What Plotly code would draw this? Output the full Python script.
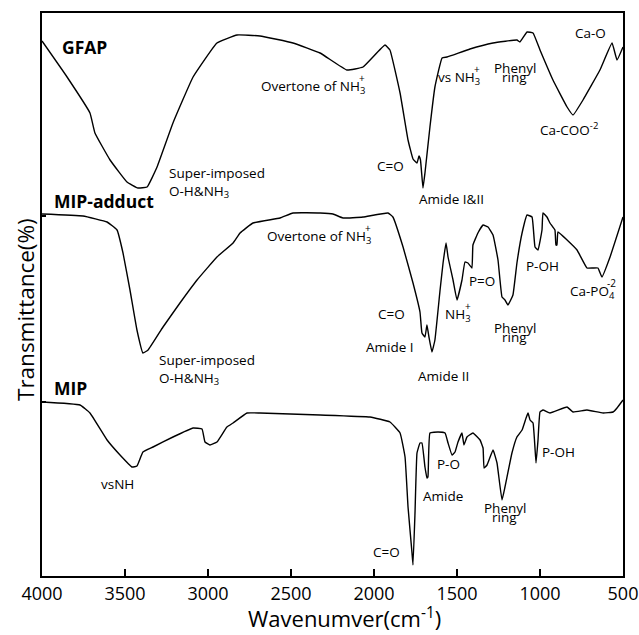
import plotly.graph_objects as go

# ---- data (wavenumber cm-1, transmittance in arbitrary offset units) ----
gfap_wn = [4000, 3849, 3711, 3681, 3590, 3488, 3422, 3367, 3307, 3211, 3090, 2946, 2825, 2687,
           2488, 2325, 2163, 2066, 1934, 1904, 1843, 1795, 1765, 1741, 1729, 1720, 1705, 1693,
           1663, 1633, 1590, 1560, 1422, 1283, 1139, 1121, 1078, 1042, 1000, 922, 837, 801,
           741, 639, 566, 536, 500]
gfap_t = [535, 499, 463, 443, 416, 394, 388, 389, 409, 453, 499, 533, 541, 540,
          533, 523, 506, 509, 531, 526, 483, 436, 417, 413, 420, 416, 388, 403,
          449, 489, 518, 519, 527, 533, 536, 534, 544, 543, 526, 496, 469, 461,
          476, 506, 533, 516, 529]

adduct_wn = [4000, 3753, 3608, 3548, 3512, 3470, 3428, 3392, 3361, 3271, 3169, 3066, 2946, 2849,
             2807, 2729, 2566, 2488, 2325, 2247, 2187, 2066, 1916, 1886, 1825, 1765, 1723, 1711,
             1693, 1681, 1669, 1651, 1633, 1602, 1584, 1566, 1554, 1524, 1500, 1470, 1452, 1434,
             1410, 1404, 1374, 1343, 1313, 1283, 1253, 1229, 1211, 1193, 1163, 1139, 1108, 1078,
             1048, 1030, 1012, 988, 982, 958, 940, 910, 904, 898, 892, 837, 777, 717, 681, 651,
             627, 578, 500]
adduct_t = [362, 360, 354, 346, 323, 286, 246, 223, 226, 249, 273, 296, 319, 333,
            343, 353, 358, 363, 363, 362, 358, 359, 363, 359, 329, 293, 264, 243,
            239, 251, 239, 224, 236, 286, 313, 333, 319, 296, 276, 296, 314, 313,
            308, 331, 343, 351, 349, 341, 316, 279, 276, 271, 281, 313, 343, 361,
            359, 329, 326, 346, 363, 359, 353, 346, 331, 331, 344, 336, 326, 308, 308, 308,
            299, 319, 359]

mip_wn = [4000, 3771, 3711, 3608, 3530, 3458, 3428, 3392, 3331, 3211, 3090, 3036, 3018, 2988,
          2946, 2886, 2849, 2765, 2687, 2325, 2024, 1904, 1843, 1813, 1795, 1771, 1765, 1753,
          1741, 1723, 1711, 1693, 1681, 1675, 1663, 1614, 1572, 1554, 1530, 1512, 1494, 1470,
          1458, 1440, 1404, 1361, 1343, 1337, 1319, 1283, 1259, 1229, 1211, 1169, 1139, 1108,
          1084, 1072, 1060, 1042, 1024, 1012, 1000, 982, 940, 837, 801, 717, 620, 560, 536, 500]
mip_t = [174, 171, 163, 136, 121, 109, 110, 124, 129, 139, 148, 147, 134, 131,
         134, 149, 153, 163, 163, 161, 159, 154, 143, 119, 69, 23, 11, 63,
         123, 133, 133, 109, 98, 99, 143, 144, 143, 133, 121, 124, 134, 143,
         131, 139, 143, 136, 128, 108, 111, 126, 113, 76, 89, 123, 139, 146,
         158, 163, 156, 153, 113, 136, 164, 166, 163, 169, 164, 166, 163, 164, 168, 176]

x_ticks = [4000, 3500, 3000, 2500, 2000, 1500, 1000, 500]

FONT = "Open Sans"
LS = 13.5   # label size
fig = go.Figure()
for wn, t in [(gfap_wn, gfap_t), (adduct_wn, adduct_t), (mip_wn, mip_t)]:
    fig.add_trace(go.Scatter(x=wn, y=t, mode="lines",
                             line=dict(color="black", width=1.4, shape="spline", smoothing=0.3),
                             showlegend=False, hoverinfo="skip"))

ann = []
def lab(text, x, y, size=LS, bold=False, xanchor="center", align="center"):
    t = f"<b>{text}</b>" if bold else text
    ann.append(dict(x=x, y=y, xref="x", yref="y", text=t, showarrow=False,
                    xanchor=xanchor, yanchor="middle", align=align,
                    font=dict(family=FONT, size=size, color="black")))

def stacked(text, sup, x, y, size=LS, supsize=10, dx=0, dy=9):
    # text right-anchored at x; superscript placed above the last character
    ann.append(dict(x=x, y=y, xref="x", yref="y", text=text, showarrow=False,
                    xanchor="right", yanchor="middle",
                    font=dict(family=FONT, size=size, color="black")))
    ann.append(dict(x=x, y=y, xref="x", yref="y", text=sup, showarrow=False,
                    xanchor="right", yanchor="middle", xshift=dx, yshift=dy,
                    font=dict(family=FONT, size=supsize, color="black")))

# series names
lab("GFAP", 3892, 529, size=17.5, bold=True, xanchor="left")
lab("MIP-adduct", 3940, 375, size=17.5, bold=True, xanchor="left")
lab("MIP", 3940, 188, size=17.5, bold=True, xanchor="left")

# GFAP
lab("Super-imposed<br>O-H&NH<sub>3</sub>", 3247, 394, xanchor="left", align="left")
stacked("Overtone of NH<sub>3</sub>", "+", 2042, 489)
lab("C=O", 1898, 410)
lab("Amide I&II", 1536, 377)
stacked("vs NH<sub>3</sub>", "+", 1349, 498)
lab("Phenyl", 1151, 508)
lab("ring", 1151, 499)
lab("Ca-COO<sup>-2</sup>", 1012, 447, xanchor="left")
lab("Ca-O", 693, 543)

# MIP-adduct
stacked("Overtone of NH<sub>3</sub>", "+", 2006, 339)
lab("Super-imposed<br>O-H&NH<sub>3</sub>", 3307, 207, xanchor="left", align="left")
lab("C=O", 1892, 262)
lab("Amide I", 1904, 229)
lab("Amide II", 1584, 200)
stacked("NH<sub>3</sub>", "+", 1404, 261)
lab("P=O", 1349, 295)
lab("Phenyl", 1151, 248)
lab("ring", 1151, 239)
lab("P-OH", 982, 310)
stacked("Ca-PO<sub>4</sub>", "-2", 535, 284, dx=1)

# MIP
lab("vsNH", 3548, 92)
lab("C=O", 1922, 24)
lab("P-O", 1554, 112)
lab("Amide", 1584, 80)
lab("Phenyl", 1211, 68)
lab("ring", 1211, 59)
lab("P-OH", 886, 124)

# axis titles (placed as annotations to match the reference offsets)
ann.append(dict(x=-0.0275, y=0.4725, xref="paper", yref="paper", text="Transmittance(%)",
                textangle=-90, showarrow=False, xanchor="center", yanchor="middle",
                font=dict(family=FONT, size=22.5, color="black")))
ann.append(dict(x=0.5215, y=-0.0746, xref="paper", yref="paper", text="Wavenumver(cm<sup>-1</sup>)",
                showarrow=False, xanchor="center", yanchor="middle",
                font=dict(family=FONT, size=22, color="black")))

fig.update_layout(
    width=639, height=635,
    margin=dict(l=42, r=16, t=13, b=59, autoexpand=False),
    paper_bgcolor="white", plot_bgcolor="white",
    annotations=ann,
    font=dict(family=FONT, color="black"),
    xaxis=dict(range=[4000, 500], tickvals=x_ticks, ticktext=[str(v) for v in x_ticks],
               ticks="inside", ticklen=7, tickwidth=2, tickcolor="black",
               showline=True, linewidth=2, linecolor="black", mirror=True,
               showgrid=False, zeroline=False, automargin=False,
               tickfont=dict(family=FONT, size=18, color="black")),
    yaxis=dict(range=[0, 563], tickvals=[174, 360], showticklabels=False,
               ticks="inside", ticklen=4, tickwidth=1.5, tickcolor="black",
               showline=True, linewidth=2, linecolor="black", mirror=True,
               showgrid=False, zeroline=False, automargin=False),
)

fig.write_html("out.html")
